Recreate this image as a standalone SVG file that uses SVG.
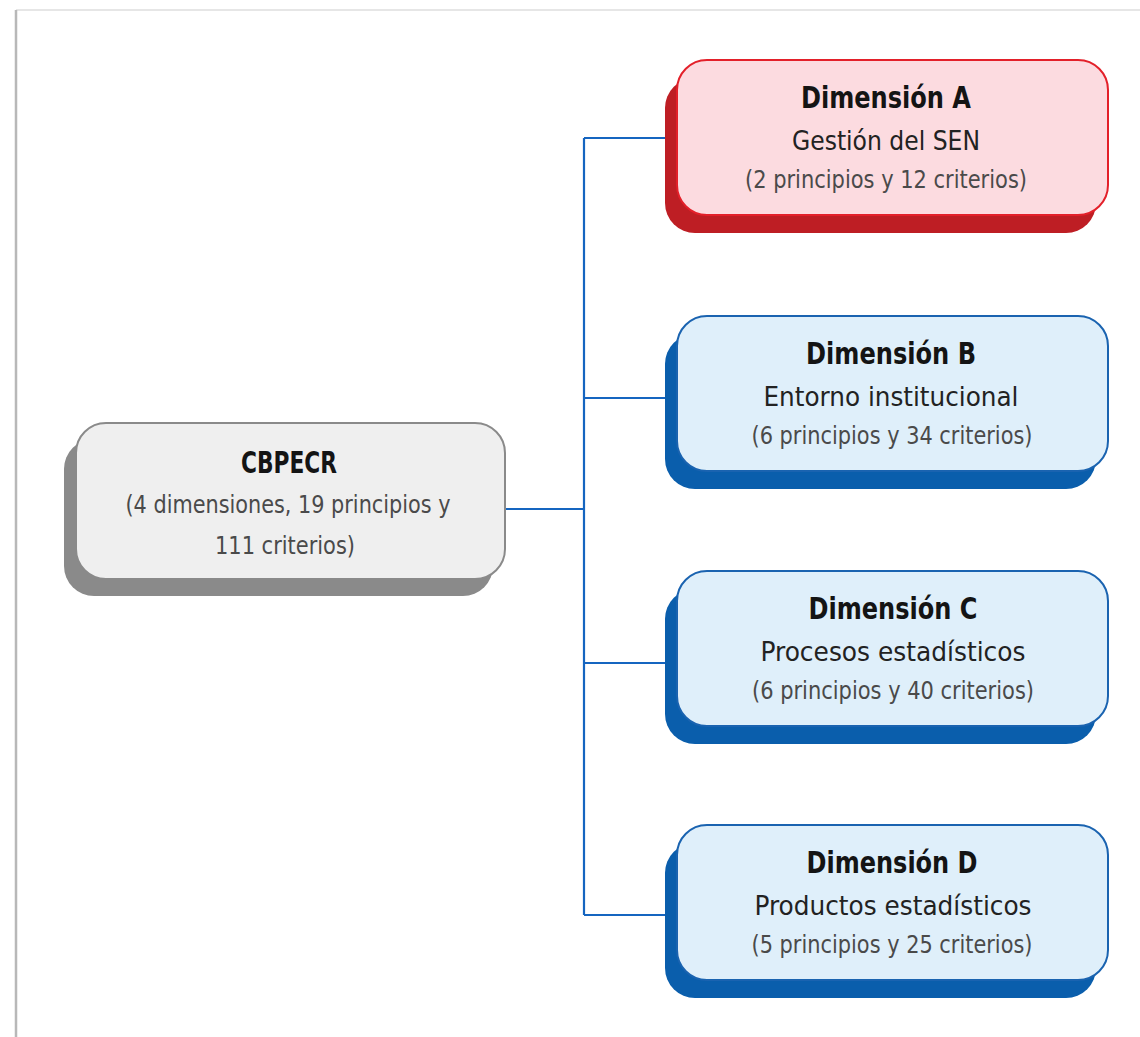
<svg xmlns="http://www.w3.org/2000/svg" width="1140" height="1037" viewBox="0 0 1140 1037">
<style>
text{font-family:"DejaVu Sans Condensed","Liberation Sans Narrow","Roboto Condensed","Liberation Sans",sans-serif;font-stretch:condensed;text-anchor:middle}
.t{font-weight:bold;font-size:31px;fill:#141414}
.s{font-size:27px;fill:#222222}
.p{font-size:25px;fill:#4a4a4a}
.conn{fill:none;stroke:#1565c0;stroke-width:2.2}
.redF{fill:#fcdbe0;stroke:#e3202a;stroke-width:2}
.redS{fill:#be1e24}
.bluF{fill:#dfeffa;stroke:#1a63b0;stroke-width:2}
.bluS{fill:#0a5eac}
.grF{fill:#efefef;stroke:#8a8a8a;stroke-width:2}
.grS{fill:#8a8a8a}
</style>
<rect x="0" y="0" width="1140" height="1037" fill="#ffffff"/>
<line x1="16" y1="10" x2="1140" y2="10" stroke="#e6e6e6" stroke-width="2"/>
<line x1="16" y1="10" x2="16" y2="1037" stroke="#b8b8b8" stroke-width="2.5"/>
<g id="connectors">
<path class="conn" d="M505 509 H584 M584 138 V915 M584 138 H666 M584 398 H666 M584 663 H666 M584 915 H666"/>
</g>
<g id="node-cbpecr">
<rect class="grS" x="64" y="439" width="429" height="157" rx="30"/>
<rect class="grF" x="76" y="423" width="429" height="156" rx="30"/>
<text class="t" x="289" y="473" textLength="96" lengthAdjust="spacingAndGlyphs">CBPECR</text>
<text class="p" x="288" y="513" textLength="325" lengthAdjust="spacingAndGlyphs">(4 dimensiones, 19 principios y</text>
<text class="p" x="285" y="554" textLength="140" lengthAdjust="spacingAndGlyphs">111 criterios)</text>
</g>
<g id="node-a">
<rect class="redS" x="665" y="78" width="431" height="155" rx="30"/>
<rect class="redF" x="677" y="60" width="431" height="155" rx="30"/>
<text class="t" x="886" y="108" textLength="170" lengthAdjust="spacingAndGlyphs">Dimensión A</text>
<text class="s" x="886" y="150" textLength="188" lengthAdjust="spacingAndGlyphs">Gestión del SEN</text>
<text class="p" x="886" y="188" textLength="282" lengthAdjust="spacingAndGlyphs">(2 principios y 12 criterios)</text>
</g>
<g id="node-b">
<rect class="bluS" x="665" y="334" width="431" height="155" rx="30"/>
<rect class="bluF" x="677" y="316" width="431" height="155" rx="30"/>
<text class="t" x="891" y="364" textLength="170" lengthAdjust="spacingAndGlyphs">Dimensión B</text>
<text class="s" x="891" y="406" textLength="255" lengthAdjust="spacingAndGlyphs">Entorno institucional</text>
<text class="p" x="892" y="444" textLength="281" lengthAdjust="spacingAndGlyphs">(6 principios y 34 criterios)</text>
</g>
<g id="node-c">
<rect class="bluS" x="665" y="589" width="431" height="155" rx="30"/>
<rect class="bluF" x="677" y="571" width="431" height="155" rx="30"/>
<text class="t" x="893" y="619" textLength="169" lengthAdjust="spacingAndGlyphs">Dimensión C</text>
<text class="s" x="893" y="661" textLength="265" lengthAdjust="spacingAndGlyphs">Procesos estadísticos</text>
<text class="p" x="893" y="699" textLength="282" lengthAdjust="spacingAndGlyphs">(6 principios y 40 criterios)</text>
</g>
<g id="node-d">
<rect class="bluS" x="665" y="843" width="431" height="155" rx="30"/>
<rect class="bluF" x="677" y="825" width="431" height="155" rx="30"/>
<text class="t" x="892" y="873" textLength="171" lengthAdjust="spacingAndGlyphs">Dimensión D</text>
<text class="s" x="893" y="915" textLength="277" lengthAdjust="spacingAndGlyphs">Productos estadísticos</text>
<text class="p" x="892" y="953" textLength="281" lengthAdjust="spacingAndGlyphs">(5 principios y 25 criterios)</text>
</g>
</svg>
